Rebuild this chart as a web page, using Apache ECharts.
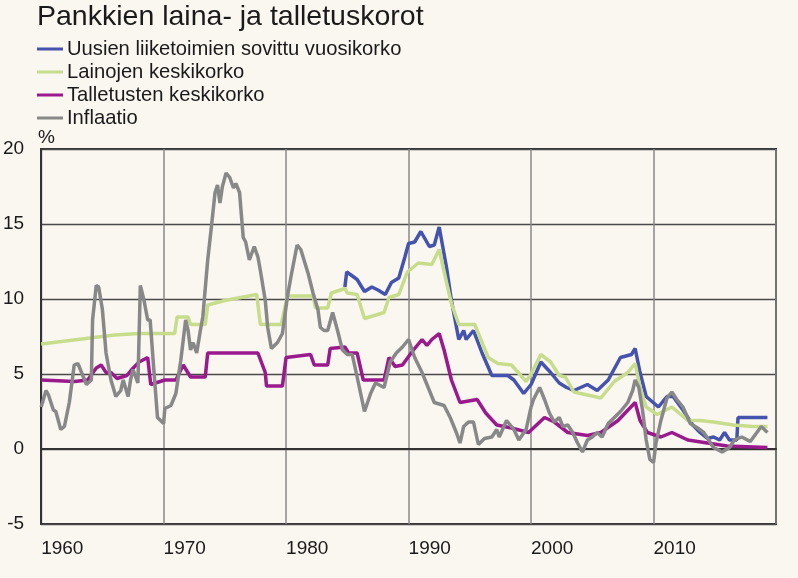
<!DOCTYPE html>
<html>
<head>
<meta charset="utf-8">
<script src="https://cdn.jsdelivr.net/npm/echarts@6/dist/echarts.min.js"></script>
<style>
html,body{margin:0;padding:0;background:#faf6f0;}
#c{width:798px;height:578px;}
</style>
</head>
<body>
<div id="c"></div>
<script>
var titleText = 'Pankkien laina- ja talletuskorot';
var seriesNames = ['Uusien liiketoimien sovittu vuosikorko', 'Lainojen keskikorko', 'Talletusten keskikorko', 'Inflaatio'];
var xTicks = [1960, 1970, 1980, 1990, 2000, 2010, 2020];
var yTicks = [-5, 0, 5, 10, 15, 20];

var liikeYears = [1984.8,1984.95,1985.3,1985.8,1986.4,1987.0,1987.5,1988.1,1988.6,1989.2,1989.7,1990.0,1990.5,1991.0,1991.7,1992.1,1992.5,1993.1,1993.5,1994.1,1994.5,1994.7,1995.3,1996.0,1996.8,1997.6,1998.1,1998.6,1999.4,2000.0,2000.8,2001.6,2002.3,2002.9,2003.5,2004.6,2005.4,2006.3,2007.3,2008.2,2008.5,2008.9,2009.4,2010.4,2011.1,2011.6,2012.4,2013.2,2013.8,2014.4,2014.9,2015.4,2015.8,2016.2,2016.8,2016.9,2018.1,2019.3];
var liikeValues = [10.8,11.8,11.6,11.3,10.5,10.8,10.6,10.3,11.1,11.4,12.8,13.7,13.8,14.5,13.5,13.6,14.8,12.1,9.9,7.3,7.9,7.3,7.9,6.4,4.9,4.9,4.9,4.6,3.7,4.3,5.8,5.1,4.4,4.1,3.9,4.3,3.9,4.6,6.1,6.3,6.7,5.1,3.5,2.8,3.5,3.5,2.6,1.6,1.1,0.7,0.8,0.6,1.1,0.6,0.6,2.1,2.1,2.1];

var lainaYears = [1960,1962,1964,1966,1968,1970.9,1971.1,1972.0,1972.2,1973.4,1973.6,1975.0,1977.6,1977.9,1979.6,1980.1,1982.2,1982.4,1983.4,1983.7,1984.8,1985.0,1985.8,1986.4,1988.0,1988.4,1989.2,1989.9,1990.8,1991.9,1992.5,1993.1,1993.5,1994.1,1995.4,1996.5,1997.3,1998.4,1999.6,2000.0,2000.8,2001.6,2002.3,2002.8,2003.5,2004.6,2005.7,2006.8,2007.9,2008.5,2008.9,2009.4,2010.3,2011.5,2012.8,2013.8,2014.9,2016.5,2018.1,2019.3];
var lainaValues = [7.0,7.2,7.4,7.6,7.7,7.7,8.8,8.8,8.3,8.3,9.6,9.9,10.3,8.3,8.3,10.2,10.2,9.4,9.4,10.4,10.7,10.4,10.3,8.7,9.1,10.1,10.3,11.8,12.4,12.3,13.3,11.1,9.7,8.3,8.3,6.1,5.7,5.6,4.5,5.0,6.3,5.8,4.9,4.8,3.8,3.6,3.4,4.5,5.1,5.7,4.1,2.8,2.3,2.8,1.9,1.9,1.8,1.6,1.5,1.5];

var talletusYears = [1960,1962.7,1963.8,1964.5,1964.9,1965.3,1965.7,1966.2,1967.0,1967.4,1968.0,1968.7,1968.95,1970.1,1971.0,1971.6,1972.2,1973.4,1973.6,1977.7,1978.3,1978.4,1979.7,1980.0,1982.0,1982.3,1983.4,1983.6,1984.8,1985.1,1985.8,1986.3,1988.0,1988.4,1988.9,1989.5,1990.3,1991.1,1991.5,1991.9,1992.5,1992.9,1993.5,1994.2,1995.6,1996.3,1997.2,1998.4,1999.8,2001.1,2001.9,2003.0,2004.6,2005.7,2007.1,2008.5,2008.9,2009.5,2010.6,2011.5,2012.8,2014.4,2016.0,2019.3];
var talletusValues = [4.6,4.5,4.6,5.4,5.6,5.1,5.1,4.7,4.9,5.3,5.8,6.1,4.3,4.6,4.6,5.6,4.8,4.8,6.4,6.4,5.1,4.2,4.2,6.1,6.3,5.6,5.6,6.7,6.8,6.4,6.4,4.6,4.6,6.1,5.5,5.6,6.5,7.3,6.9,7.3,7.7,6.6,4.6,3.1,3.3,2.4,1.6,1.4,1.1,2.1,1.8,1.1,0.9,1.1,1.9,3.1,1.9,1.1,0.8,1.1,0.6,0.4,0.2,0.1];

var inflYears = [1960,1960.4,1960.6,1961.0,1961.2,1961.6,1961.9,1962.3,1962.7,1963.0,1963.2,1963.7,1964.1,1964.2,1964.5,1964.7,1965.0,1965.3,1965.7,1966.1,1966.5,1966.7,1967.1,1967.3,1967.5,1967.9,1968.1,1968.4,1968.7,1968.9,1969.2,1969.5,1970.0,1970.1,1970.6,1971.0,1971.4,1971.8,1972.0,1972.2,1972.4,1972.7,1973.0,1973.2,1973.6,1973.9,1974.2,1974.4,1974.6,1974.8,1975.1,1975.4,1975.7,1975.9,1976.2,1976.5,1976.7,1977.0,1977.4,1977.7,1977.9,1978.3,1978.5,1978.8,1979.3,1979.7,1980.1,1980.4,1980.9,1981.2,1981.8,1982.2,1982.6,1982.8,1983.1,1983.4,1983.8,1984.2,1984.6,1985.0,1985.4,1985.8,1986.4,1986.9,1987.3,1988.0,1988.5,1989.0,1989.5,1990.0,1990.5,1991.1,1991.6,1992.1,1992.9,1993.4,1993.9,1994.2,1994.5,1994.9,1995.3,1995.7,1996.2,1996.8,1997.2,1997.4,1998.0,1998.6,1999.0,1999.6,2000.0,2000.2,2000.7,2001.1,2001.5,2001.9,2002.3,2002.6,2003.0,2003.4,2003.8,2004.2,2004.6,2005.0,2005.4,2005.8,2006.3,2006.8,2007.3,2007.9,2008.3,2008.5,2008.8,2009.1,2009.4,2009.7,2010.0,2010.2,2010.6,2011.1,2011.5,2011.9,2012.4,2013.0,2013.6,2014.1,2014.9,2015.6,2016.2,2016.6,2017.2,2017.9,2018.8,2019.3];
var inflValues = [2.8,3.9,3.6,2.6,2.5,1.3,1.5,3.1,5.6,5.7,5.3,4.3,4.6,8.6,10.9,10.8,9.3,6.4,4.6,3.5,3.9,4.6,3.5,4.6,5.3,4.4,10.9,9.9,8.6,8.6,5.3,2.1,1.7,2.7,2.9,3.7,5.9,8.6,7.9,6.6,7.1,6.4,7.9,8.8,12.6,14.8,17.1,17.6,16.4,17.5,18.4,18.1,17.4,17.7,17.1,14.1,13.8,12.6,13.5,12.8,11.9,9.9,8.1,6.7,7.1,7.7,10.1,11.5,13.6,13.3,11.7,10.4,9.3,8.1,7.9,7.9,9.1,7.9,6.6,6.3,6.3,4.8,2.5,3.7,4.4,4.1,5.8,6.4,6.8,7.3,6.1,5.1,4.1,3.1,2.9,2.1,1.1,0.4,1.5,1.8,1.8,0.3,0.7,0.8,1.3,0.8,1.9,1.3,0.6,1.3,2.8,3.3,4.1,3.3,2.4,1.8,2.1,1.5,1.6,1.1,0.4,-0.2,0.6,0.8,1.1,0.8,1.7,2.1,2.5,3.1,3.9,4.6,4.1,2.6,0.6,-0.7,-0.9,0.4,1.9,3.4,3.8,3.3,2.8,1.7,1.4,1.1,0.1,-0.2,0.1,0.6,0.8,0.5,1.5,1.1];

var colors = ['#4453ad', '#c8dd8c', '#9a1a8e', '#888888'];

function zip(xs, ys) { return xs.map(function (x, i) { return [x, ys[i]]; }); }
var seriesData = [zip(liikeYears, liikeValues), zip(lainaYears, lainaValues), zip(talletusYears, talletusValues), zip(inflYears, inflValues)];

var font = '"Liberation Sans", Arial, sans-serif';
var chart = echarts.init(document.getElementById('c'), null, {renderer: 'canvas'});
chart.setOption({
  backgroundColor: '#faf6f0',
  animation: false,
  textStyle: {fontFamily: font},
  title: {
    text: titleText, left: 37, top: 3, padding: 0,
    textStyle: {fontFamily: font, fontSize: 28.5, fontWeight: 'normal', color: '#1a1a1a'}
  },
  legend: {
    orient: 'vertical', left: 37, top: 39, padding: 0,
    icon: 'rect', itemWidth: 26, itemHeight: 3, itemGap: 3,
    data: seriesNames,
    textStyle: {fontFamily: font, fontSize: 20.2, color: '#1a1a1a', lineHeight: 20, padding: [0, 0, 0, -1]}
  },
  graphic: [{
    type: 'text', left: 38, top: 128,
    style: {text: '%', font: '19px ' + font, fill: '#1a1a1a'}
  }],
  grid: {left: 37, right: 22, top: 149, bottom: 54, show: true, borderColor: '#333', borderWidth: 2, backgroundColor: 'transparent'},
  xAxis: {
    type: 'value', min: xTicks[0], max: xTicks[xTicks.length - 1], interval: 10,
    axisLine: {show: true, lineStyle: {color: '#333', width: 2}},
    axisTick: {show: false},
    splitLine: {show: true, lineStyle: {color: '#888', width: 1.5}},
    axisLabel: {
      fontFamily: font, fontSize: 19, color: '#1a1a1a', align: 'left', margin: 15,
      formatter: function (v) { return v === 2020 ? '' : String(v); }
    }
  },
  yAxis: {
    type: 'value', min: yTicks[0], max: yTicks[yTicks.length - 1], interval: 5,
    axisLine: {show: true, lineStyle: {color: '#333', width: 2}},
    axisTick: {show: false},
    splitLine: {show: true, lineStyle: {color: '#4a4a4a', width: 1.3}},
    axisLabel: {fontFamily: font, fontSize: 19, color: '#1a1a1a', margin: 17}
  },
  series: seriesNames.map(function (name, i) {
    return {
      name: name, type: 'line', data: seriesData[i], symbol: 'none', showSymbol: false,
      lineStyle: {color: colors[i], width: 3.5}, itemStyle: {color: colors[i]},
      z: 2 + i
    };
  })
});
</script>
</body>
</html>
